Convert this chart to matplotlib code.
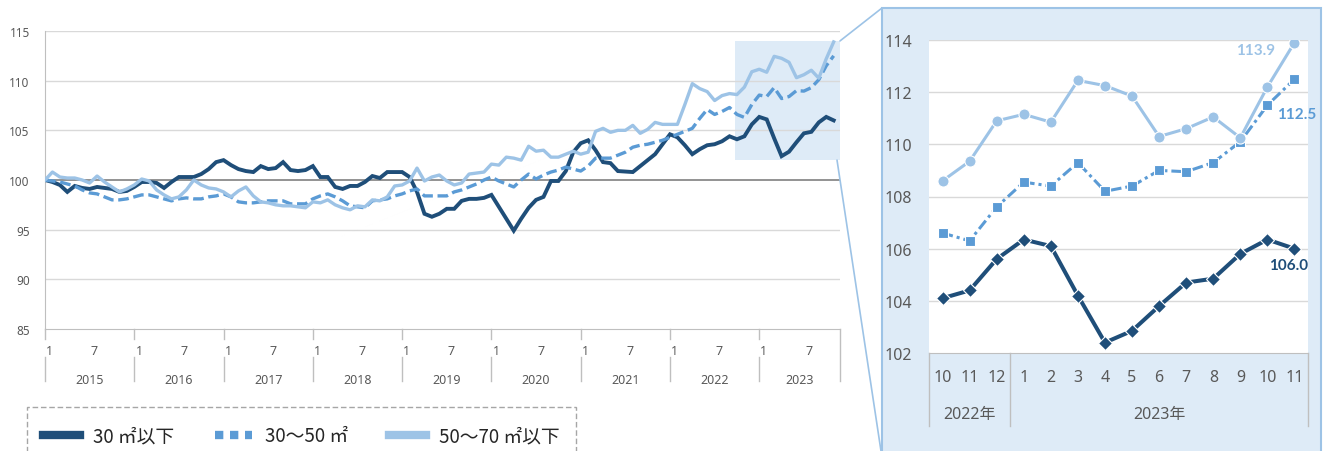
import matplotlib
matplotlib.use("Agg")
import matplotlib.pyplot as plt
from matplotlib.lines import Line2D
from matplotlib.patches import Rectangle, ConnectionPatch
import matplotlib.transforms as mtransforms

plt.rcParams['font.family'] = ['Noto Sans', 'Noto Sans CJK JP', 'DejaVu Sans']

# monthly index, 2015-01 .. 2023-11 (2015-01 = 100)
years = ['2015', '2016', '2017', '2018', '2019', '2020', '2021', '2022', '2023']
under30 = [
    100.0, 99.8, 99.5, 98.8, 99.4, 99.2, 99.1, 99.3, 99.2, 99.1, 98.8, 98.9,
    99.3, 99.8, 99.8, 99.7, 99.2, 99.8, 100.3, 100.3, 100.3, 100.6, 101.1, 101.8,
    102.0, 101.5, 101.1, 100.9, 100.8, 101.4, 101.1, 101.2, 101.8, 101.0, 100.9, 101.0,
    101.4, 100.3, 100.3, 99.3, 99.1, 99.4, 99.4, 99.8, 100.4, 100.2, 100.8, 100.8,
    100.8, 100.3, 98.8, 96.6, 96.3, 96.6, 97.1, 97.1, 97.9, 98.1, 98.1, 98.2,
    98.5, 97.3, 96.1, 94.9, 96.1, 97.2, 98.0, 98.3, 99.9, 99.9, 100.9, 102.8,
    103.7, 104.0, 103.0, 101.8, 101.7, 100.9, 100.85, 100.8, 101.4, 102.0, 102.6, 103.6,
    104.6, 104.3, 103.5, 102.6, 103.1, 103.5, 103.6, 103.9, 104.4, 104.1, 104.4, 105.6,
    106.35, 106.1, 104.2, 102.4, 102.85, 103.8, 104.7, 104.85, 105.8, 106.35, 106.0,
]
m30_50 = [
    100.0, 99.9, 99.8, 99.6, 99.4, 99.0, 98.7, 98.6, 98.3, 98.0, 98.0, 98.1,
    98.3, 98.5, 98.5, 98.3, 98.1, 97.9, 98.1, 98.2, 98.1, 98.1, 98.3, 98.4,
    98.6, 98.3, 97.8, 97.7, 97.7, 97.8, 97.9, 97.9, 97.9, 97.6, 97.6, 97.6,
    98.1, 98.4, 98.6, 98.3, 97.9, 97.4, 97.3, 97.2, 97.9, 98.0, 98.1, 98.4,
    98.6, 98.9, 99.1, 98.4, 98.4, 98.4, 98.4, 98.8, 99.0, 99.3, 99.6, 100.0,
    100.3, 99.9, 99.6, 99.3, 100.0, 100.6, 100.1, 100.5, 100.8, 101.0, 101.3, 101.1,
    100.9, 101.4, 102.2, 102.2, 102.2, 102.5, 102.8, 103.3, 103.5, 103.6, 103.8, 104.0,
    104.3, 104.6, 104.9, 105.2, 106.2, 107.1, 106.6, 106.9, 107.3, 106.6, 106.3, 107.6,
    108.55, 108.4, 109.3, 108.2, 108.4, 109.0, 108.95, 109.3, 110.1, 111.5, 112.5,
]
m50_70 = [
    100.0, 100.8, 100.3, 100.2, 100.2, 100.0, 99.7, 100.4, 99.8, 99.3, 98.8, 99.1,
    99.5, 100.1, 99.9, 99.0, 98.5, 98.1, 98.3, 99.0, 100.0, 99.5, 99.2, 99.1,
    98.8, 98.3, 98.9, 99.3, 98.4, 97.8, 97.7, 97.5, 97.4, 97.4, 97.3, 97.2,
    97.8, 97.7, 98.0, 97.5, 97.2, 97.0, 97.4, 97.3, 98.0, 97.9, 98.3, 99.4,
    99.5, 99.9, 101.2, 99.9, 100.3, 100.5, 99.9, 99.5, 99.7, 100.6, 100.7, 100.8,
    101.6, 101.5, 102.3, 102.2, 102.0, 103.4, 102.9, 103.0, 102.3, 102.3, 102.6, 102.9,
    102.6, 102.8, 104.9, 105.2, 104.8, 105.0, 105.0, 105.5, 104.7, 105.1, 105.8, 105.6,
    105.6, 105.6, 107.6, 109.7, 109.2, 108.9, 108.0, 108.5, 108.7, 108.6, 109.35, 110.9,
    111.15, 110.85, 112.45, 112.25, 111.85, 110.3, 110.6, 111.05, 110.25, 112.2, 113.9,
]
labels = ['30 ㎡以下', '30〜50 ㎡', '50〜70 ㎡以下']

# zoomed panel: last 14 months
zoom_n = 14
zoom_months = ['10', '11', '12', '1', '2', '3', '4', '5', '6', '7', '8', '9', '10', '11']
zoom_years = [('2022年', 0, 2), ('2023年', 3, 13)]

c_dark, c_mid, c_light = '#1F4E79', '#5B9BD5', '#9DC3E6'
c_grid, c_axis, c_text = '#D9D9D9', '#BFBFBF', '#595959'
c_panel = '#DEEBF7'

W, H = 1325, 452
fig = plt.figure(figsize=(W / 100, H / 100), dpi=100)


def px_rect(l, t, r, b):
    return [l / W, 1 - b / H, (r - l) / W, (b - t) / H]


# ---------- main chart ----------
ax = fig.add_axes(px_rect(45, 32, 840, 330))
x = list(range(len(under30)))
xmax = 106.85
ax.set_xlim(0, xmax)
ax.set_ylim(85, 115)

for v in range(85, 116, 5):
    if v == 100:
        ax.axhline(v, color='#808080', lw=1.2, zorder=1)
    elif v > 85:
        ax.axhline(v, color=c_grid, lw=1, zorder=1)

x0 = len(x) - zoom_n - 0.3
ax.add_patch(Rectangle((x0, 102), xmax - x0, 12, facecolor=c_panel,
                       edgecolor='none', zorder=0.5))

ax.plot(x, under30, color=c_dark, lw=2.8, zorder=3, solid_joinstyle='miter')
ax.plot(x, m30_50, color=c_mid, lw=2.4, dashes=(3.2, 1.4), zorder=4)
ax.plot(x, m50_70, color=c_light, lw=2.4, zorder=5)

for s in ['top', 'right']:
    ax.spines[s].set_visible(False)
ax.spines['left'].set_color(c_axis)
ax.spines['bottom'].set_color(c_axis)
ax.set_yticks(range(85, 116, 5))
ax.tick_params(axis='y', length=0, pad=11, labelsize=8.5, labelcolor=c_text)
ax.set_xticks([])

tr = mtransforms.blended_transform_factory(ax.transData, ax.transAxes)
for k, yr in enumerate(years):
    start = 12 * k
    ax.text(start + 0.15, -0.084, '1', transform=tr, ha='left', va='baseline',
            fontsize=9, color=c_text)
    ax.text(start + 6 + 0.15, -0.084, '7', transform=tr, ha='left', va='baseline',
            fontsize=9, color=c_text)
    end = min(start + 12, xmax)
    ax.text((start + end) / 2, -0.181, yr, transform=tr, ha='center', va='baseline',
            fontsize=9, color=c_text)
    ax.plot([start, start], [0, -0.034], transform=tr, color=c_axis, lw=1, clip_on=False)
    ax.plot([start, start], [-0.094, -0.174], transform=tr, color=c_axis, lw=1, clip_on=False)
ax.plot([xmax, xmax], [0, -0.174], transform=tr, color=c_axis, lw=1, clip_on=False)

# legend with dashed frame
fig.add_artist(Rectangle((27 / W, -0.05), (576 - 27) / W, 0.05 + 1 - 408 / H,
                         transform=fig.transFigure, facecolor='none',
                         edgecolor='#A6A6A6', lw=1, ls=(0, (4, 2))))
handles = [
    Line2D([], [], color=c_dark, lw=6),
    Line2D([], [], color=c_mid, lw=6, dashes=(1, 0.8)),
    Line2D([], [], color=c_light, lw=6),
]
fig.legend(handles, labels, loc='center left', bbox_to_anchor=(43 / W, 1 - 437 / H),
           ncol=3, frameon=False, handlelength=1.95, handletextpad=0.7,
           columnspacing=2.2, borderpad=0, borderaxespad=0,
           prop={'family': ['Noto Sans CJK JP'], 'size': 13.5}, labelcolor='#262626')

# ---------- zoom panel ----------
fig.add_artist(Rectangle((882 / W, -0.05), (1321 - 882) / W, 0.05 + 1 - 9 / H,
                         transform=fig.transFigure, facecolor=c_panel,
                         edgecolor=c_light, lw=1.5, zorder=0))

axz = fig.add_axes(px_rect(929, 41, 1308, 354))
axz.set_facecolor('white')
zx = list(range(zoom_n))
axz.set_xlim(-0.5, zoom_n - 0.5)
axz.set_ylim(102, 114)
for v in range(104, 115, 2):
    axz.axhline(v, color=c_grid, lw=1, zorder=1)

z30 = under30[-zoom_n:]
z50 = m30_50[-zoom_n:]
z70 = m50_70[-zoom_n:]
axz.plot(zx, z30, color=c_dark, lw=2.9, marker='D', ms=7.3, mec='white', mew=0.8, zorder=3)
axz.plot(zx, z50, color=c_mid, lw=2.2, dashes=(3.5, 1.3, 1, 1.3), marker='s', ms=7.5,
         mec='white', mew=0.8, zorder=4)
axz.plot(zx, z70, color=c_light, lw=2.2, marker='o', ms=8, mec='white', mew=0.8, zorder=5)

bold = dict(ha='center', va='center', fontsize=11, fontweight='bold',
            family=['Lato', 'DejaVu Sans'])
axz.annotate(f'{z70[-1]:.1f}', (zx[-1], z70[-1]), xytext=(-28, -5),
             textcoords='offset points', color=c_light, **bold)
axz.annotate(f'{z50[-1]:.1f}', (zx[-1], z50[-1]), xytext=(1.5, -25),
             textcoords='offset points', color=c_mid, **bold)
axz.annotate(f'{z30[-1]:.1f}', (zx[-1], z30[-1]), xytext=(-4, -11.5),
             textcoords='offset points', color=c_dark, **bold)

for s in ['top', 'right', 'left']:
    axz.spines[s].set_visible(False)
axz.spines['bottom'].set_color(c_axis)
axz.set_yticks(range(102, 115, 2))
axz.tick_params(axis='y', length=0, pad=12, labelsize=11.5, labelcolor=c_text)
axz.set_xticks([])

trz = mtransforms.blended_transform_factory(axz.transData, axz.transAxes)
for i, m in zip(zx, zoom_months):
    axz.text(i, -0.09, m, transform=trz, ha='center', va='baseline', fontsize=11.5, color=c_text)
for name, a, b in zoom_years:
    axz.text((a + b) / 2, -0.209, name, transform=trz, ha='center', va='baseline',
             fontsize=11.5, color=c_text)
for xs in [-0.5, 2.5, zoom_n - 0.5]:
    axz.plot([xs, xs], [0, -0.233], transform=trz, color=c_axis, lw=1, clip_on=False)

# connectors from highlighted box to the zoom panel
for (xa, ya), (xb, yb) in [((xmax, 114), (882, 9)), ((xmax - 0.4, 102), (881, 452))]:
    fig.add_artist(ConnectionPatch(xyA=(xa, ya), coordsA=ax.transData,
                                   xyB=(xb / W, 1 - yb / H), coordsB=fig.transFigure,
                                   color=c_light, lw=1.2))

fig.savefig('out.png', dpi=100)
